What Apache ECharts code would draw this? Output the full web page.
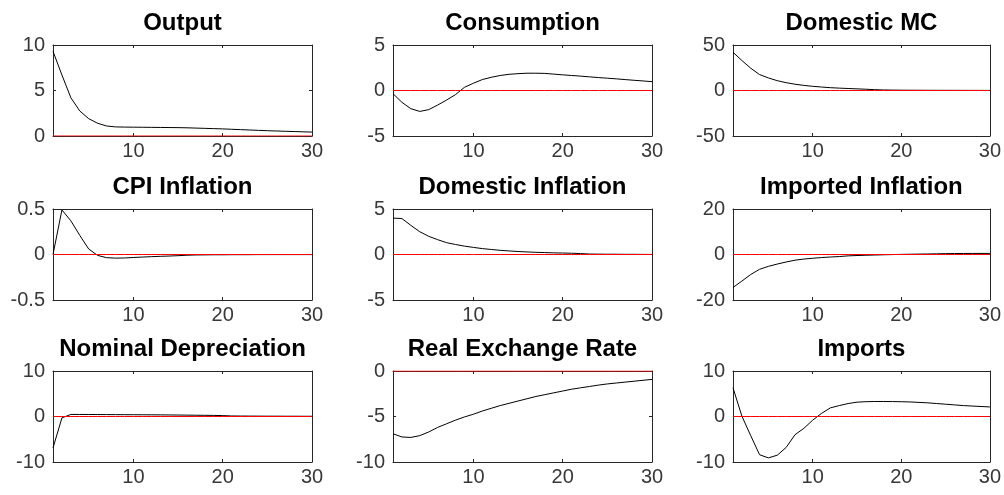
<!DOCTYPE html>
<html>
<head>
<meta charset="utf-8">
<script src="https://cdn.jsdelivr.net/npm/echarts@6/dist/echarts.min.js"></script>
<style>
  html, body { margin: 0; background: #fff; }
  #chart { width: 1004px; height: 495px; }
</style>
</head>
<body>
<div id="chart"></div>
<script>
// impulse responses, periods 1..30
const periods = [1, 2, 3, 4, 5, 6, 7, 8, 9, 10, 11, 12, 13, 14, 15, 16, 17, 18, 19, 20, 21, 22, 23, 24, 25, 26, 27, 28, 29, 30];
const xTicks = [10, 20, 30];

const output = [9.3, 6.7, 4.2, 2.75, 1.9, 1.4, 1.1, 1.0, 0.98, 0.97, 0.96, 0.95, 0.94, 0.93, 0.92, 0.9, 0.87, 0.84, 0.81, 0.78, 0.74, 0.7, 0.66, 0.62, 0.58, 0.55, 0.52, 0.49, 0.46, 0.43];
const consumption = [-0.35, -1.3, -2.0, -2.3, -2.1, -1.6, -1.05, -0.45, 0.35, 0.8, 1.2, 1.45, 1.65, 1.78, 1.85, 1.9, 1.9, 1.88, 1.8, 1.72, 1.65, 1.58, 1.5, 1.42, 1.35, 1.28, 1.2, 1.12, 1.05, 0.97];
const domesticMC = [42, 33, 24.5, 17.5, 13.8, 10.8, 8.6, 6.9, 5.6, 4.6, 3.8, 3.1, 2.6, 2.2, 1.8, 1.4, 0.9, 0.6, 0.45, 0.35, 0.3, 0.25, 0.22, 0.2, 0.18, 0.16, 0.14, 0.12, 0.11, 0.1];
const cpiInflation = [0, 0.49, 0.37, 0.21, 0.06, -0.01, -0.035, -0.04, -0.038, -0.033, -0.028, -0.024, -0.02, -0.017, -0.013, -0.008, -0.005, -0.004, -0.003, -0.003, -0.002, -0.002, -0.002, -0.001, -0.001, -0.001, -0.001, -0.001, -0.001, -0.001];
const domesticInflation = [4.0, 3.95, 3.2, 2.5, 2.0, 1.63, 1.3, 1.1, 0.92, 0.78, 0.65, 0.55, 0.46, 0.39, 0.33, 0.28, 0.24, 0.21, 0.18, 0.16, 0.14, 0.1, 0.05, 0.04, 0.03, 0.03, 0.02, 0.02, 0.01, 0.01];
const importedInflation = [-14.5, -11.7, -8.8, -6.5, -5.2, -4.2, -3.3, -2.5, -2.0, -1.65, -1.35, -1.1, -0.9, -0.6, -0.45, -0.33, -0.22, -0.12, -0.03, 0.05, 0.12, 0.18, 0.24, 0.3, 0.38, 0.42, 0.45, 0.47, 0.48, 0.48];
const nominalDepreciation = [-6.9, -0.3, 0.45, 0.45, 0.44, 0.43, 0.42, 0.41, 0.4, 0.39, 0.38, 0.37, 0.36, 0.34, 0.32, 0.3, 0.28, 0.26, 0.24, 0.2, 0.12, 0.1, 0.09, 0.08, 0.07, 0.07, 0.06, 0.06, 0.05, 0.05];
const realExchangeRate = [-6.9, -7.25, -7.3, -7.1, -6.7, -6.2, -5.8, -5.4, -5.05, -4.75, -4.4, -4.1, -3.8, -3.55, -3.3, -3.05, -2.8, -2.6, -2.4, -2.2, -2.0, -1.85, -1.7, -1.55, -1.42, -1.32, -1.22, -1.12, -1.02, -0.92];
const imports = [6.3, 0.1, -4.2, -8.4, -9.1, -8.5, -6.8, -4.0, -2.6, -0.8, 0.7, 1.9, 2.4, 2.85, 3.15, 3.25, 3.3, 3.3, 3.28, 3.25, 3.2, 3.1, 3.0, 2.85, 2.7, 2.55, 2.4, 2.3, 2.2, 2.1];

const titles = ['Output', 'Consumption', 'Domestic MC', 'CPI Inflation', 'Domestic Inflation', 'Imported Inflation', 'Nominal Depreciation', 'Real Exchange Rate', 'Imports'];
const responses = [output, consumption, domesticMC, cpiInflation, domesticInflation, importedInflation, nominalDepreciation, realExchangeRate, imports];
const yMin = [0, -5, -50, -0.5, -5, -20, -10, -10, -10];
const yMax = [10, 5, 50, 0.5, 5, 20, 10, 0, 10];
const yStep = [5, 5, 50, 0.5, 5, 20, 10, 5, 10];

const colLeft = [53, 393, 733];
const rowTop = [45, 209, 371];
const boxW = 259;
const boxH = 91;

const font = 'Arial, "Liberation Sans", Helvetica, sans-serif';
const axisColor = '#262626';

const grid = [], xAxis = [], yAxis = [], series = [];

titles.forEach((title, i) => {
    const row = Math.floor(i / 3), col = i % 3;
    grid.push({ left: colLeft[col], top: rowTop[row], width: boxW, height: boxH, containLabel: false });

    const line = { show: true, onZero: false, lineStyle: { color: axisColor, width: 1 } };
    const tick = { show: true, inside: true, length: 3, lineStyle: { color: axisColor } };

    // bottom axis with labels, top one only closes the box and carries the title
    xAxis.push({
        type: 'value', gridIndex: i, position: 'bottom', min: 1, max: 30,
        axisLine: line, splitLine: { show: false },
        axisTick: Object.assign({ customValues: xTicks }, tick),
        axisLabel: { customValues: xTicks, color: '#383838', fontSize: 20, fontFamily: font, margin: 5 }
    });
    xAxis.push({
        type: 'value', gridIndex: i, position: 'top', min: 1, max: 30,
        axisLine: line, splitLine: { show: false },
        axisTick: Object.assign({ customValues: xTicks }, tick),
        axisLabel: { show: false },
        name: title, nameLocation: 'middle', nameGap: 10,
        nameTextStyle: { color: '#000', fontSize: 24, fontWeight: 'bold', fontFamily: font }
    });
    yAxis.push({
        type: 'value', gridIndex: i, position: 'left',
        min: yMin[i], max: yMax[i], interval: yStep[i],
        axisLine: line, splitLine: { show: false }, axisTick: tick,
        axisLabel: { color: '#383838', fontSize: 20, fontFamily: font, margin: 8 }
    });
    yAxis.push({
        type: 'value', gridIndex: i, position: 'right',
        min: yMin[i], max: yMax[i], interval: yStep[i],
        axisLine: line, splitLine: { show: false }, axisTick: tick,
        axisLabel: { show: false }
    });

    series.push({
        type: 'line', xAxisIndex: 2 * i, yAxisIndex: 2 * i,
        data: periods.map((t, k) => [t, responses[i][k]]),
        showSymbol: false, lineStyle: { color: '#000', width: 1 }, silent: true, z: 2
    });
    // zero reference, drawn over the response like the original
    series.push({
        type: 'line', xAxisIndex: 2 * i, yAxisIndex: 2 * i,
        data: periods.map(t => [t, 0]),
        showSymbol: false, lineStyle: { color: '#ff0000', width: 1 }, silent: true, z: 3
    });
});

const chart = echarts.init(document.getElementById('chart'));
chart.setOption({
    animation: false,
    backgroundColor: '#fff',
    grid, xAxis, yAxis, series
});
</script>
</body>
</html>
